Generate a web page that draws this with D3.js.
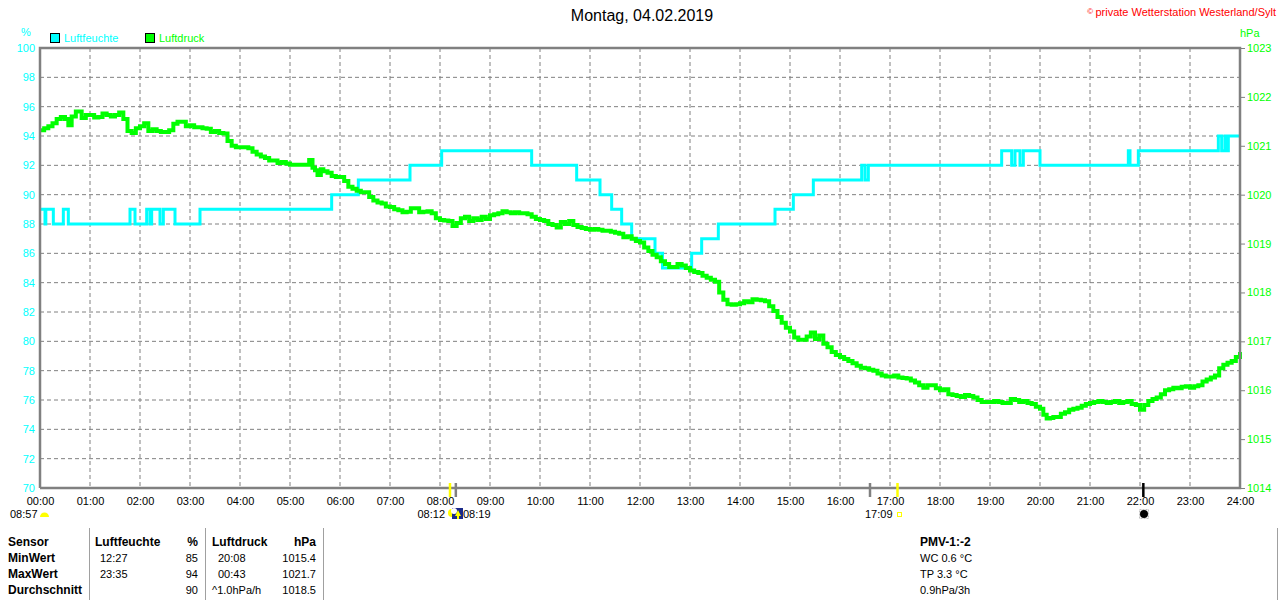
<!DOCTYPE html>
<html>
<head>
<meta charset="utf-8">
<script src="https://cdn.jsdelivr.net/npm/d3@7"></script>
<style>
  body { margin: 0; background: #fff; }
  svg { display: block; font-family: "Liberation Sans", Arial, sans-serif; }
</style>
</head>
<body>
<svg id="chart" width="1280" height="600"></svg>
<script>
// --- data ---
var title = "Montag, 04.02.2019";
var hourLabels = ["00:00","01:00","02:00","03:00","04:00","05:00","06:00","07:00","08:00","09:00","10:00","11:00","12:00",
                  "13:00","14:00","15:00","16:00","17:00","18:00","19:00","20:00","21:00","22:00","23:00","24:00"];
var humTicks = [70,72,74,76,78,80,82,84,86,88,90,92,94,96,98,100];
var pressTicks = [1014,1015,1016,1017,1018,1019,1020,1021,1022,1023];

// Luftfeuchte (%), step changes
var humidity = [
  ["00:00",89],["00:06",88],["00:07",89],["00:16",88],["00:28",89],["00:34",88],
  ["01:48",89],["01:54",88],["02:08",89],["02:12",88],["02:14",89],["02:24",88],["02:28",89],["02:42",88],
  ["03:12",89],["05:50",90],["06:22",91],["07:24",92],["08:02",93],["09:50",92],["10:44",91],
  ["11:12",90],["11:26",89],["11:38",88],["11:50",87],["12:18",86],["12:27",85],["13:02",86],
  ["13:14",87],["13:34",88],["14:42",89],["15:04",90],["15:28",91],["16:26",92],["16:30",91],
  ["16:34",92],["19:14",93],["19:26",92],["19:30",93],["19:36",92],["19:40",93],["20:00",92],
  ["21:46",93],["21:48",92],["21:58",93],["23:34",94],["23:38",93],["23:42",94],["23:44",93],
  ["23:46",94],["24:00",94]
];

// Luftdruck (hPa)
var pressure = [
  ["00:00",1021.32],["00:05",1021.36],["00:10",1021.40],["00:15",1021.46],["00:20",1021.55],["00:25",1021.59],
  ["00:30",1021.55],["00:34",1021.42],["00:38",1021.60],["00:43",1021.70],["00:50",1021.57],["00:55",1021.63],
  ["01:00",1021.63],["01:05",1021.58],["01:10",1021.59],["01:15",1021.66],["01:20",1021.63],["01:25",1021.60],
  ["01:30",1021.63],["01:35",1021.68],["01:40",1021.55],["01:45",1021.30],["01:50",1021.26],["01:55",1021.36],
  ["02:00",1021.40],["02:05",1021.46],["02:10",1021.30],["02:15",1021.34],["02:20",1021.30],["02:25",1021.28],
  ["02:30",1021.28],["02:35",1021.32],["02:40",1021.45],["02:45",1021.49],["02:50",1021.49],["02:55",1021.40],
  ["03:00",1021.42],["03:05",1021.38],["03:10",1021.38],["03:15",1021.36],["03:20",1021.35],["03:25",1021.28],
  ["03:30",1021.30],["03:35",1021.26],["03:40",1021.25],["03:45",1021.10],["03:50",1021.00],["03:55",1020.97],
  ["04:00",1020.97],["04:05",1020.97],["04:10",1020.95],["04:15",1020.88],["04:20",1020.82],["04:25",1020.78],
  ["04:30",1020.75],["04:35",1020.70],["04:40",1020.70],["04:45",1020.65],["04:50",1020.67],["04:55",1020.64],
  ["05:00",1020.61],["05:10",1020.61],["05:20",1020.61],["05:23",1020.71],["05:27",1020.55],["05:30",1020.50],
  ["05:33",1020.40],["05:37",1020.52],["05:40",1020.48],["05:45",1020.45],["05:50",1020.38],["05:55",1020.36],
  ["06:00",1020.36],["06:05",1020.28],["06:10",1020.16],["06:15",1020.12],["06:20",1020.08],["06:25",1020.05],
  ["06:30",1020.05],["06:35",1019.95],["06:40",1019.88],["06:45",1019.84],["06:50",1019.82],["06:55",1019.76],
  ["07:00",1019.75],["07:05",1019.70],["07:10",1019.68],["07:15",1019.64],["07:20",1019.65],["07:25",1019.72],
  ["07:30",1019.72],["07:35",1019.64],["07:40",1019.65],["07:45",1019.66],["07:50",1019.62],["07:55",1019.52],
  ["08:00",1019.48],["08:05",1019.47],["08:10",1019.46],["08:15",1019.36],["08:20",1019.42],["08:25",1019.52],
  ["08:30",1019.55],["08:35",1019.46],["08:40",1019.52],["08:45",1019.48],["08:50",1019.55],["08:55",1019.50],
  ["09:00",1019.58],["09:05",1019.60],["09:10",1019.62],["09:15",1019.66],["09:20",1019.64],["09:25",1019.62],
  ["09:30",1019.64],["09:35",1019.62],["09:40",1019.62],["09:45",1019.60],["09:50",1019.55],["09:55",1019.50],
  ["10:00",1019.48],["10:05",1019.46],["10:10",1019.40],["10:15",1019.38],["10:20",1019.33],["10:25",1019.44],
  ["10:30",1019.40],["10:35",1019.46],["10:40",1019.38],["10:45",1019.34],["10:50",1019.32],["10:55",1019.30],
  ["11:00",1019.28],["11:05",1019.30],["11:10",1019.28],["11:15",1019.26],["11:20",1019.26],["11:25",1019.24],
  ["11:30",1019.22],["11:35",1019.20],["11:40",1019.13],["11:45",1019.15],["11:50",1019.10],["11:55",1019.05],
  ["12:00",1019.02],["12:05",1018.92],["12:10",1018.85],["12:15",1018.77],["12:20",1018.72],["12:25",1018.64],
  ["12:30",1018.58],["12:35",1018.52],["12:40",1018.52],["12:45",1018.58],["12:50",1018.55],["12:55",1018.50],
  ["13:00",1018.45],["13:05",1018.42],["13:10",1018.40],["13:15",1018.34],["13:20",1018.30],["13:25",1018.26],
  ["13:30",1018.22],["13:35",1018.00],["13:40",1017.85],["13:45",1017.76],["13:50",1017.75],["13:55",1017.76],
  ["14:00",1017.78],["14:05",1017.82],["14:10",1017.80],["14:15",1017.86],["14:20",1017.85],["14:25",1017.84],
  ["14:30",1017.82],["14:35",1017.72],["14:40",1017.62],["14:45",1017.50],["14:50",1017.38],["14:55",1017.28],
  ["15:00",1017.20],["15:05",1017.08],["15:10",1017.03],["15:15",1017.03],["15:20",1017.10],["15:25",1017.18],
  ["15:30",1017.05],["15:35",1017.12],["15:40",1016.95],["15:45",1016.88],["15:50",1016.78],["15:55",1016.72],
  ["16:00",1016.68],["16:05",1016.64],["16:10",1016.60],["16:15",1016.55],["16:20",1016.50],["16:25",1016.46],
  ["16:30",1016.45],["16:35",1016.42],["16:40",1016.40],["16:45",1016.34],["16:50",1016.30],["16:55",1016.28],
  ["17:00",1016.28],["17:05",1016.30],["17:10",1016.26],["17:15",1016.25],["17:20",1016.24],["17:25",1016.20],
  ["17:30",1016.16],["17:35",1016.10],["17:40",1016.05],["17:45",1016.10],["17:50",1016.10],["17:55",1016.04],
  ["18:00",1016.00],["18:05",1016.02],["18:10",1015.92],["18:15",1015.90],["18:20",1015.88],["18:25",1015.86],
  ["18:30",1015.90],["18:35",1015.88],["18:40",1015.85],["18:45",1015.80],["18:50",1015.76],["18:55",1015.76],
  ["19:00",1015.76],["19:05",1015.78],["19:10",1015.76],["19:15",1015.74],["19:20",1015.74],["19:25",1015.82],
  ["19:30",1015.80],["19:35",1015.76],["19:40",1015.78],["19:45",1015.74],["19:50",1015.72],["19:55",1015.66],
  ["20:00",1015.62],["20:04",1015.50],["20:08",1015.42],["20:12",1015.43],["20:16",1015.45],["20:20",1015.45],
  ["20:25",1015.52],["20:30",1015.55],["20:35",1015.60],["20:40",1015.62],["20:45",1015.64],["20:50",1015.68],
  ["20:55",1015.72],["21:00",1015.74],["21:05",1015.76],["21:10",1015.78],["21:15",1015.76],["21:20",1015.74],
  ["21:25",1015.76],["21:30",1015.78],["21:35",1015.74],["21:40",1015.76],["21:45",1015.78],["21:50",1015.72],
  ["21:55",1015.70],["22:00",1015.60],["22:05",1015.70],["22:10",1015.78],["22:15",1015.82],["22:20",1015.85],
  ["22:25",1015.92],["22:30",1016.00],["22:35",1016.02],["22:40",1016.05],["22:45",1016.04],["22:50",1016.07],
  ["22:55",1016.08],["23:00",1016.05],["23:05",1016.08],["23:10",1016.10],["23:15",1016.18],["23:20",1016.22],
  ["23:25",1016.26],["23:30",1016.30],["23:35",1016.45],["23:40",1016.52],["23:45",1016.56],["23:50",1016.60],
  ["23:55",1016.68],["24:00",1016.78]
];

// sun / moon markers below the time axis
var sunMarks = [
  { time: "08:12", color: "#ffff00" },
  { time: "08:19", color: "#808080" },
  { time: "16:36", color: "#808080" },
  { time: "17:09", color: "#ffff00" },
  { time: "22:04", color: "#000000" }
];

// table below the chart
var tableHead = ["Sensor", "Luftfeuchte", "%", "Luftdruck", "hPa"];
var tableRows = [
  ["MinWert", "12:27", "85", "20:08", "1015.4"],
  ["MaxWert", "23:35", "94", "00:43", "1021.7"],
  ["Durchschnitt", "", "90", "^1.0hPa/h", "1018.5"]
];
var extraInfo = ["PMV-1:-2", "WC 0.6 °C", "TP 3.3 °C", "0.9hPa/3h"];

// --- chart ---
var svg = d3.select("#chart");
var margin = { top: 48, right: 40, bottom: 112, left: 40 },
    width = 1280 - margin.left - margin.right,
    height = 600 - margin.top - margin.bottom;

function toMin(t) { var p = t.split(":"); return +p[0] * 60 + +p[1]; }

var x = d3.scaleLinear().domain([0, 1440]).range([margin.left, margin.left + width]);
var yHum = d3.scaleLinear().domain([70, 100]).range([margin.top + height, margin.top]);
var yPress = d3.scaleLinear().domain([1014, 1023]).range([margin.top + height, margin.top]);

var grey = "#808080";
var cyan = "#00ffff";
var green = "#00ff00";

// grid
var grid = svg.append("g");
grid.selectAll(".vg").data(hourLabels.slice(1, -1)).enter().append("line")
    .attr("x1", function (d) { return x(toMin(d)); })
    .attr("x2", function (d) { return x(toMin(d)); })
    .attr("y1", margin.top).attr("y2", margin.top + height)
    .attr("stroke", grey).attr("stroke-dasharray", "4,3");
grid.selectAll(".hg").data(humTicks.slice(1, -1)).enter().append("line")
    .attr("x1", margin.left).attr("x2", margin.left + width)
    .attr("y1", function (d) { return yHum(d); })
    .attr("y2", function (d) { return yHum(d); })
    .attr("stroke", grey).attr("stroke-dasharray", "4,3");

// left axis (humidity)
var leftAxis = svg.append("g")
    .attr("transform", "translate(" + (margin.left - 4) + ",0)")
    .call(d3.axisLeft(yHum).tickValues(humTicks).tickSize(0).tickPadding(1));
leftAxis.select(".domain").remove();
leftAxis.selectAll("text").attr("fill", cyan).style("font-size", "11px")
    .style("font-family", "Liberation Sans, Arial, sans-serif");

// right axis (pressure)
var rightAxis = svg.append("g")
    .attr("transform", "translate(" + (margin.left + width) + ",0)")
    .call(d3.axisRight(yPress).tickValues(pressTicks).tickSize(5).tickPadding(2).tickFormat(d3.format("d")));
rightAxis.select(".domain").remove();
rightAxis.selectAll("line").attr("stroke", grey);
rightAxis.selectAll("text").attr("fill", green).style("font-size", "11px")
    .style("font-family", "Liberation Sans, Arial, sans-serif");

// bottom axis labels
var bottomAxis = svg.append("g")
    .attr("transform", "translate(0," + (margin.top + height) + ")")
    .call(d3.axisBottom(x).tickValues(hourLabels.map(toMin)).tickSize(0).tickPadding(9)
        .tickFormat(function (d, i) { return hourLabels[i]; }));
bottomAxis.select(".domain").remove();
bottomAxis.selectAll("text").attr("fill", "#000").style("font-size", "11px")
    .style("font-family", "Liberation Sans, Arial, sans-serif");

// series
var humLine = d3.line()
    .x(function (d) { return x(toMin(d[0])); })
    .y(function (d) { return yHum(d[1]); })
    .curve(d3.curveStepAfter);
svg.append("path").datum(humidity)
    .attr("d", humLine).attr("fill", "none")
    .attr("stroke", cyan).attr("stroke-width", 3);

var pressLine = d3.line()
    .x(function (d) { return x(toMin(d[0])); })
    .y(function (d) { return yPress(d[1]); })
    .curve(d3.curveStepAfter);
svg.append("path").datum(pressure)
    .attr("d", pressLine).attr("fill", "none")
    .attr("stroke", green).attr("stroke-width", 4);

// frame
svg.append("path")
    .attr("d", "M" + margin.left + "," + (margin.top + height) + "V" + margin.top +
        "H" + (margin.left + width) + "V" + (margin.top + height) + "H" + margin.left)
    .attr("fill", "none").attr("stroke", grey).attr("stroke-width", 2.5);

// sun/moon ticks
svg.selectAll(".sm").data(sunMarks).enter().append("line")
    .attr("x1", function (d) { return x(toMin(d.time)); })
    .attr("x2", function (d) { return x(toMin(d.time)); })
    .attr("y1", margin.top + height - 5).attr("y2", margin.top + height + 9)
    .attr("stroke", function (d) { return d.color; }).attr("stroke-width", 2.5);

// texts and icons under the axis
var small = svg.append("g").style("font-size", "11px").attr("fill", "#000");
small.append("text").attr("x", 10).attr("y", 518).text("08:57");
svg.append("path").attr("d", "M40,517 A4.5,4.5 0 0 1 49,517 Z").attr("fill", "#ffff00");
small.append("text").attr("x", x(toMin("08:12")) - 5).attr("y", 518).attr("text-anchor", "end").text("08:12");
svg.append("circle").attr("cx", 452).attr("cy", 513).attr("r", 4).attr("fill", "#ffff00");
svg.append("rect").attr("x", 452).attr("y", 508).attr("width", 11).attr("height", 11).attr("fill", "#1a2a8a");
svg.append("circle").attr("cx", 454).attr("cy", 511).attr("r", 3).attr("fill", "#ffffff");
svg.append("path").attr("d", "M458,510 L461,516 L459,516 L459,519 L457,519 L457,516 L455,516 Z").attr("fill", "#ffff00");
small.append("text").attr("x", 463).attr("y", 518).text("08:19");
small.append("text").attr("x", x(toMin("17:09")) - 5).attr("y", 518).attr("text-anchor", "end").text("17:09");
svg.append("rect").attr("x", 897.5).attr("y", 512.5).attr("width", 4).attr("height", 4)
    .attr("fill", "none").attr("stroke", "#ffff00");
svg.append("rect").attr("x", 1139.5).attr("y", 509.5).attr("width", 9).attr("height", 9)
    .attr("fill", "none").attr("stroke", "#c0c0c0").attr("stroke-dasharray", "2,1");
svg.append("circle").attr("cx", 1144).attr("cy", 514).attr("r", 4).attr("fill", "#000");

// headings
svg.append("text").attr("x", 642).attr("y", 21).attr("text-anchor", "middle")
    .style("font-size", "16px").attr("fill", "#000").text(title);
var copy = svg.append("text").attr("x", 1276).attr("y", 16).attr("text-anchor", "end")
    .style("font-size", "11px").attr("fill", "#ff0000");
copy.append("tspan").style("font-size", "8px").attr("dy", "-2").text("© ");
copy.append("tspan").attr("dy", "2").text("private Wetterstation Westerland/Sylt");

svg.append("text").attr("x", 21).attr("y", 36).style("font-size", "11px").attr("fill", cyan).text("%");
svg.append("text").attr("x", 1240).attr("y", 37).style("font-size", "11px").attr("fill", green).text("hPa");

// legend
var legend = [["Luftfeuchte", cyan, 50], ["Luftdruck", green, 145]];
var lg = svg.selectAll(".lg").data(legend).enter().append("g");
lg.append("rect").attr("x", function (d) { return d[2] + 0.5; }).attr("y", 33.5)
    .attr("width", 9).attr("height", 9).attr("fill", function (d) { return d[1]; })
    .attr("stroke", "#000");
lg.append("text").attr("x", function (d) { return d[2] + 14; }).attr("y", 42)
    .style("font-size", "11px").attr("fill", function (d) { return d[1]; })
    .text(function (d) { return d[0]; });

// table
var colX = [8, 95, 198, 212, 316];
var colAnchor = ["start", "start", "end", "start", "end"];
var rowY = [546, 562, 578, 594];
var tbl = svg.append("g").style("font-size", "11px").attr("fill", "#000");
tableHead.forEach(function (t, i) {
    tbl.append("text").attr("x", colX[i]).attr("y", rowY[0]).attr("text-anchor", colAnchor[i])
        .style("font-weight", "bold").style("font-size", "12px").text(t);
});
var cellX = [8, 100, 198, 218, 316];
tableRows.forEach(function (row, r) {
    row.forEach(function (t, i) {
        var cx = (r === 2 && i === 3) ? 212 : cellX[i];
        tbl.append("text").attr("x", cx).attr("y", rowY[r + 1]).attr("text-anchor", colAnchor[i])
            .style("font-weight", i === 0 ? "bold" : "normal")
            .style("font-size", i === 0 ? "12px" : "11px").text(t);
    });
});
[89, 205, 323, 1277].forEach(function (lx) {
    svg.append("line").attr("x1", lx + 0.5).attr("x2", lx + 0.5).attr("y1", 528).attr("y2", 600)
        .attr("stroke", "#a0a0a0");
});
extraInfo.forEach(function (t, i) {
    tbl.append("text").attr("x", 920).attr("y", rowY[i])
        .style("font-weight", i === 0 ? "bold" : "normal")
        .style("font-size", i === 0 ? "12px" : "11px").text(t);
});
</script>
</body>
</html>
